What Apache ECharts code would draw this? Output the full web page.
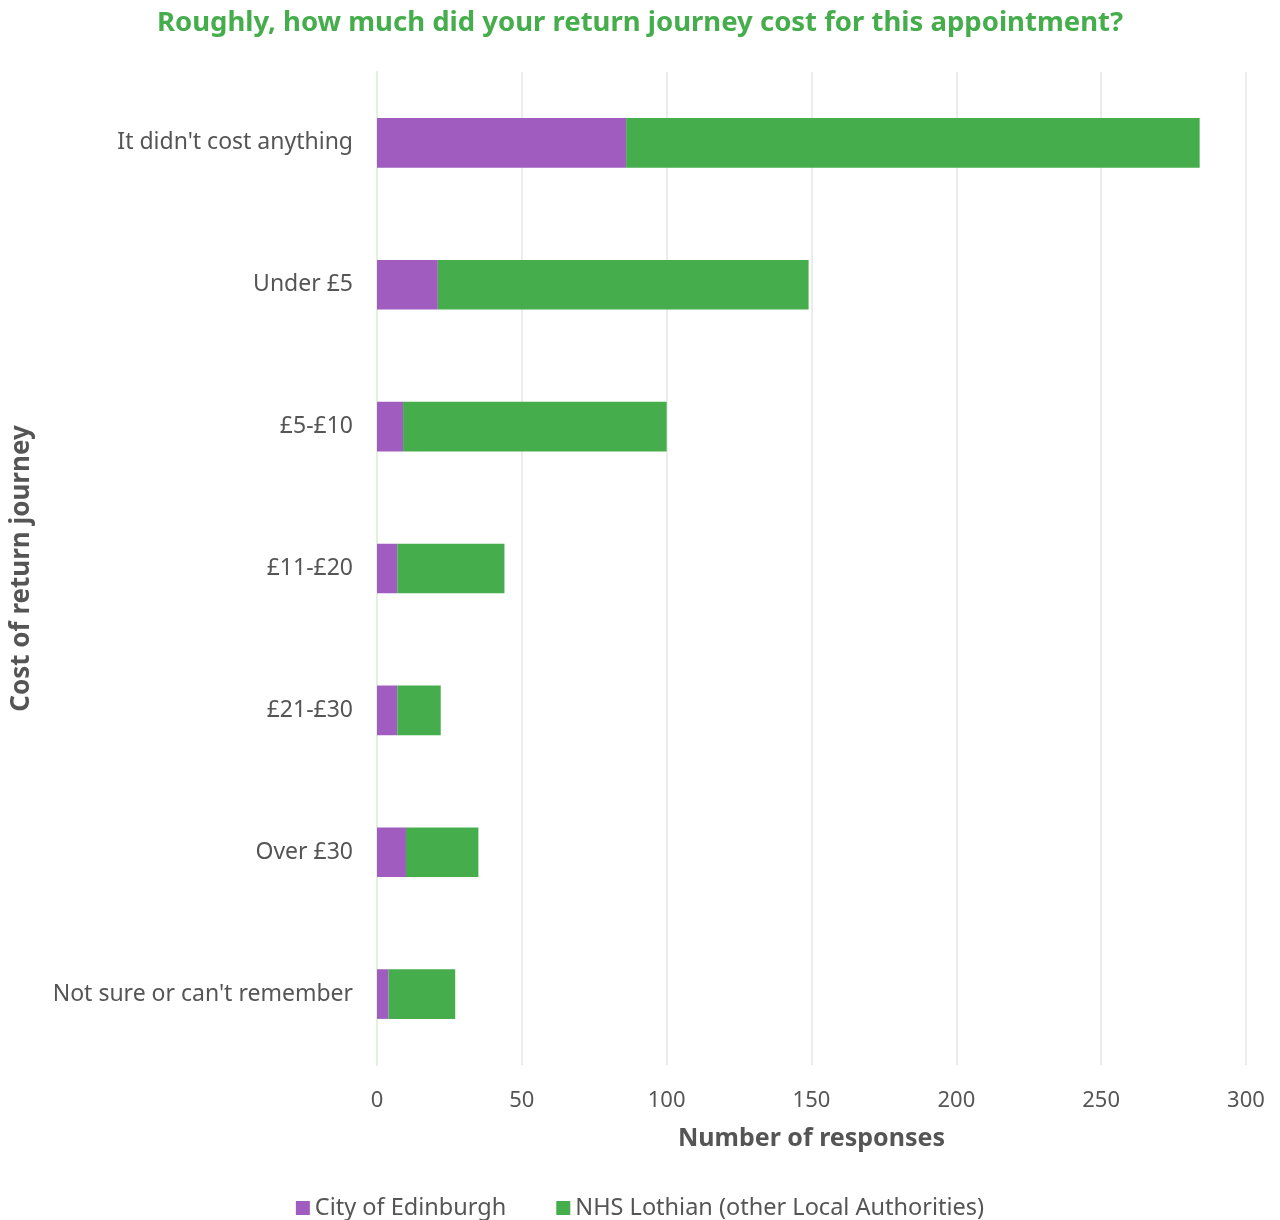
<!DOCTYPE html>
<html>
<head>
<meta charset="utf-8">
<script src="https://cdn.jsdelivr.net/npm/echarts@6/dist/echarts.min.js"></script>
<style>html,body{margin:0;padding:0;background:#fff}#c{width:1280px;height:1220px}</style>
</head>
<body>
<div id="c"></div>
<script>
const categories = ["It didn't cost anything", "Under £5", "£5-£10", "£11-£20", "£21-£30", "Over £30", "Not sure or can't remember"];
const edinburgh = [86, 21, 9, 7, 7, 10, 4];
const lothianOther = [198, 128, 91, 37, 15, 25, 23];
const xTicks = [0, 50, 100, 150, 200, 250, 300];

const font = '"Noto Sans", sans-serif';
const chart = echarts.init(document.getElementById('c'));
chart.setOption({
  animation: false,
  textStyle: { fontFamily: font },
  title: {
    text: 'Roughly, how much did your return journey cost for this appointment?',
    left: 'center', top: 4,
    textStyle: { color: '#46ad4c', fontSize: 27.5, fontWeight: 'bold', fontFamily: font }
  },
  legend: {
    bottom: 0, left: 'center', itemWidth: 14, itemHeight: 14, itemGap: 50,
    padding: [0, 5, 0, 5],
    icon: 'rect',
    textStyle: { color: '#555', fontSize: 23.5, fontFamily: font },
    data: ['City of Edinburgh', 'NHS Lothian (other Local Authorities)']
  },
  grid: { left: 377, right: 34, top: 72, bottom: 155, containLabel: false },
  xAxis: {
    type: 'value', min: 0, max: 300, interval: 50,
    name: 'Number of responses', nameLocation: 'middle', nameGap: 61,
    nameTextStyle: { color: '#555', fontSize: 25, fontWeight: 'bold', fontFamily: font },
    axisLabel: { color: '#555', fontSize: 22, margin: 25, fontFamily: font,
      formatter: v => xTicks.includes(v) ? String(v) : '' },
    axisLine: { show: false }, axisTick: { show: false },
    splitLine: { lineStyle: { color: '#ececec', width: 2 } }
  },
  yAxis: {
    type: 'category', inverse: true, data: categories,
    name: 'Cost of return journey', nameLocation: 'middle', nameGap: 342, nameRotate: 90,
    nameTextStyle: { color: '#555', fontSize: 26, fontWeight: 'bold', fontFamily: font },
    axisLabel: { color: '#555', fontSize: 23, margin: 24, fontFamily: font },
    axisLine: { show: true, lineStyle: { color: '#dff3dc', width: 2 } },
    axisTick: { show: false }
  },
  series: [
    { name: 'City of Edinburgh', type: 'bar', stack: 't', data: edinburgh, barWidth: '35%',
      itemStyle: { color: '#a05cbf' } },
    { name: 'NHS Lothian (other Local Authorities)', type: 'bar', stack: 't', data: lothianOther, barWidth: '35%',
      itemStyle: { color: '#46ad4c' } }
  ]
});
</script>
</body>
</html>
